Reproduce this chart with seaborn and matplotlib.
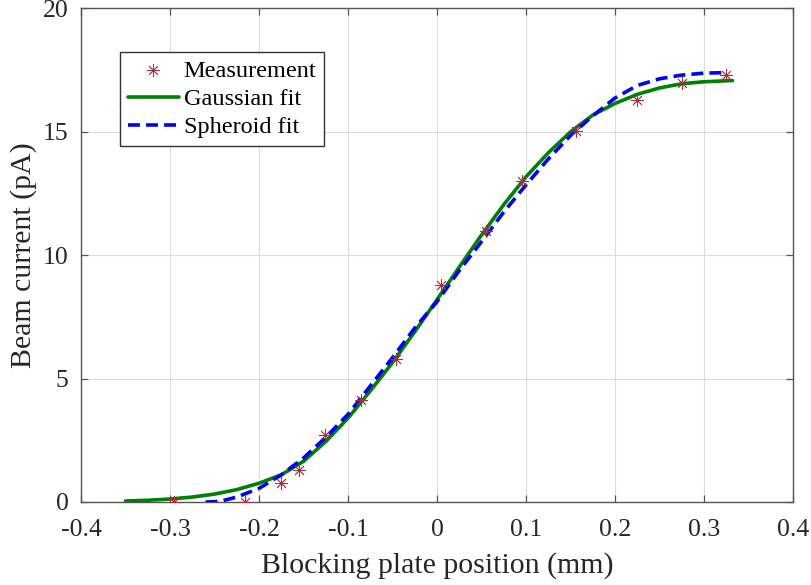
import matplotlib
matplotlib.use("Agg")
import matplotlib.pyplot as plt
import seaborn as sns
import pandas as pd

# Measurement data
meas_x = [-0.296, -0.216, -0.175, -0.155, -0.126, -0.085, -0.046, 0.004, 0.055, 0.095, 0.156, 0.225, 0.275, 0.325]
meas_y = [0.0, 0.0, 0.78, 1.30, 2.71, 4.12, 5.80, 8.81, 11.0, 13.02, 15.02, 16.3, 16.98, 17.3]

# Gaussian fit curve
gauss_x = [-0.35, -0.325, -0.3, -0.275, -0.25, -0.225, -0.2, -0.175, -0.15, -0.125, -0.1, -0.075,
           -0.05, -0.025, 0.0, 0.025, 0.05, 0.075, 0.1, 0.125, 0.15, 0.175, 0.2, 0.225, 0.25,
           0.275, 0.3, 0.332]
gauss_y = [0.04, 0.07, 0.12, 0.20, 0.32, 0.50, 0.76, 1.10, 1.65, 2.45, 3.40, 4.50,
           5.65, 6.90, 8.20, 9.52, 10.82, 12.05, 13.18, 14.15, 15.0, 15.68, 16.15, 16.52, 16.78,
           16.95, 17.03, 17.08]

# Spheroid fit curve
sph_x = [-0.26, -0.25, -0.24, -0.225, -0.2, -0.175, -0.15, -0.125, -0.1, -0.075, -0.05, -0.025,
         0.0, 0.025, 0.05, 0.075, 0.1, 0.125, 0.15, 0.175, 0.2, 0.225, 0.25, 0.275, 0.3, 0.324]
sph_y = [0.0, 0.01, 0.06, 0.20, 0.55, 1.10, 1.78, 2.62, 3.55, 4.70, 5.85, 7.05,
         8.12, 9.38, 10.55, 11.75, 12.85, 13.90, 14.85, 15.65, 16.37, 16.88, 17.15, 17.30, 17.38, 17.40]

xticks = [-0.4, -0.3, -0.2, -0.1, 0, 0.1, 0.2, 0.3, 0.4]
xtick_labels = ["-0.4", "-0.3", "-0.2", "-0.1", "0", "0.1", "0.2", "0.3", "0.4"]
yticks = [0, 5, 10, 15, 20]
ytick_labels = ["0", "5", "10", "15", "20"]

sns.set_theme(style="whitegrid")
plt.rcParams["font.family"] = ["Liberation Serif", "DejaVu Serif"]
plt.rcParams["axes.unicode_minus"] = False

fig = plt.figure(figsize=(8.11, 5.85), dpi=100)
ax = fig.add_axes([0.0999, 0.1419, 0.8779, 0.8436])

dark = "#262626"
ax.set_facecolor("white")
ax.grid(True, color="#dcdcdc", linewidth=0.8)
for s in ax.spines.values():
    s.set_color("#555555")
    s.set_linewidth(1.0)
    s.set_visible(True)

meas_df = pd.DataFrame({"x": meas_x, "y": meas_y})
g_df = pd.DataFrame({"x": gauss_x, "y": gauss_y})
s_df = pd.DataFrame({"x": sph_x, "y": sph_y})

sns.scatterplot(data=meas_df, x="x", y="y", ax=ax, marker=(8, 2, 0), s=75,
                color="#B2283F", linewidth=0.6, edgecolor="#B2283F", label="Measurement", zorder=4)
sns.lineplot(data=g_df, x="x", y="y", ax=ax, color="#008000", linewidth=2.6,
             label="Gaussian fit", sort=False, zorder=3)
sns.lineplot(data=s_df, x="x", y="y", ax=ax, color="#0000FF", linewidth=2.6,
             label="Spheroid fit", sort=False, zorder=3.5)
ax.lines[-1].set_dashes((3.3, 1.7))

ax.set_xlim(-0.4, 0.4)
ax.set_ylim(0, 20)
ax.set_xticks(xticks)
ax.set_xticklabels(xtick_labels)
ax.set_yticks(yticks)
ax.set_yticklabels(ytick_labels)
ax.tick_params(axis="both", which="both", direction="in", length=5, width=0.9,
               colors="#555555", labelcolor=dark, labelsize=18.5, top=True, right=True,
               bottom=True, left=True)
ax.tick_params(axis="x", pad=12)
ax.tick_params(axis="y", pad=9)
ax.set_xlabel("Blocking plate position (mm)", fontsize=21.5, color=dark, labelpad=8)
ax.set_ylabel("Beam current (pA)", fontsize=21.5, color=dark, labelpad=4)

leg = ax.legend(loc="upper left", bbox_to_anchor=(0.0544, 0.9125), borderaxespad=0,
                fontsize=17.5, frameon=True, fancybox=False, edgecolor="#333333",
                handlelength=2.1, handletextpad=0.2, labelspacing=0.26, borderpad=0.33)
leg.get_frame().set_linewidth(1.0)
leg.get_frame().set_alpha(1.0)
for t in leg.get_texts():
    t.set_color("black")

fig.savefig("out.png", dpi=100)
